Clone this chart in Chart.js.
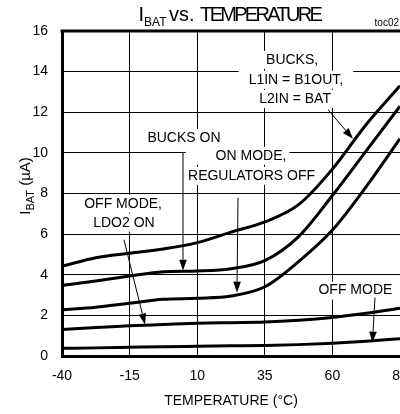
<!DOCTYPE html>
<html>
<head>
<meta charset="utf-8">
<script src="https://cdn.jsdelivr.net/npm/chart.js@4.4.1/dist/chart.umd.min.js"></script>
<style>
  html, body { margin: 0; padding: 0; background: #fff; overflow: hidden; }
</style>
</head>
<body>
<canvas id="chart" width="440" height="414"></canvas>
<script>
// temperature points (°C) and supply current (uA)
const temps = [-40, -27.5, -15, -2.5, 10, 22.5, 35, 47.5, 60, 72.5, 85];
const bucksB1out = [4.42, 4.84, 5.06, 5.27, 5.58, 6.1, 6.6, 7.45, 9.2, 11.4, 13.3];
const bucksOn = [3.48, 3.69, 3.94, 4.15, 4.19, 4.3, 4.7, 5.88, 7.9, 10.1, 12.3];
const onModeRegsOff = [2.27, 2.4, 2.6, 2.79, 2.84, 2.95, 3.41, 4.65, 6.2, 8.34, 10.7];
const offModeLdo2 = [1.31, 1.4, 1.49, 1.55, 1.61, 1.64, 1.67, 1.76, 1.9, 2.1, 2.35];
const offMode = [0.38, 0.4, 0.43, 0.46, 0.48, 0.5, 0.52, 0.56, 0.63, 0.73, 0.85];

const xTicks = [-40, -15, 10, 35, 60, 85];
const yTicks = [0, 2, 4, 6, 8, 10, 12, 14, 16];

// callout text and arrows, in data units (temp, current)
const calloutText = [
  { text: 'BUCKS,', t: 45.1, i: 14.58 },
  { text: 'L1IN = B1OUT,', t: 46.5, i: 13.6, pad: 10 },
  { text: 'L2IN = BAT', t: 46.2, i: 12.66 },
  { text: 'BUCKS ON', t: 5.1, i: 10.74 },
  { text: 'ON MODE,', t: 29.9, i: 9.86, padL: 30 },
  { text: 'REGULATORS OFF', t: 30.1, i: 8.87 },
  { text: 'OFF MODE,', t: -17.4, i: 7.5 },
  { text: 'LDO2 ON', t: -17.1, i: 6.56 },
  { text: 'OFF MODE', t: 68.5, i: 3.22 }
];
const calloutArrows = [
  { from: [58.4, 12.12], to: [67.6, 10.69] },
  { from: [4.75, 10.05], to: [4.75, 4.2] },
  { from: [25.1, 7.79], to: [24.7, 3.12] },
  { from: [-17.1, 5.73], to: [-9.3, 1.55] },
  { from: [75.75, 2.88], to: [74.8, 0.66] }
];

const FONT = '"Liberation Sans", Arial, Helvetica, sans-serif';

function pts(vals) {
  return temps.map((t, k) => ({ x: t, y: vals[k] }));
}

function curve(vals) {
  return {
    data: pts(vals),
    borderColor: '#000',
    borderWidth: 3,
    pointRadius: 0,
    fill: false,
    cubicInterpolationMode: 'monotone'
  };
}

const calloutPlugin = {
  id: 'callouts',
  beforeDatasetsDraw(chart) {
    // white boxes behind the callout text hide the grid
    const { ctx, scales: { x, y } } = chart;
    ctx.save();
    ctx.font = '14px ' + FONT;
    ctx.fillStyle = '#fff';
    calloutText.forEach(c => {
      const w = ctx.measureText(c.text).width;
      const cx = x.getPixelForValue(c.t);
      const cy = y.getPixelForValue(c.i);
      const pl = (c.padL || c.pad || 3);
      const pr = (c.pad || 3);
      ctx.fillRect(cx - w / 2 - pl, cy - 9, w + pl + pr, 18);
    });
    ctx.restore();
  },
  afterDatasetsDraw(chart) {
    const { ctx, scales: { x, y }, chartArea } = chart;
    ctx.save();
    // heavy top frame line
    ctx.strokeStyle = '#000';
    ctx.lineWidth = 3;
    ctx.beginPath();
    ctx.moveTo(chartArea.left - 1.5, chartArea.top);
    ctx.lineTo(chartArea.right + 2, chartArea.top);
    ctx.stroke();

    ctx.font = '14px ' + FONT;
    ctx.fillStyle = '#000';
    ctx.textAlign = 'center';
    ctx.textBaseline = 'middle';
    calloutText.forEach(c => {
      ctx.fillText(c.text, x.getPixelForValue(c.t), y.getPixelForValue(c.i));
    });

    ctx.lineWidth = 1;
    calloutArrows.forEach(a => {
      const x1 = x.getPixelForValue(a.from[0]), y1 = y.getPixelForValue(a.from[1]);
      const x2 = x.getPixelForValue(a.to[0]), y2 = y.getPixelForValue(a.to[1]);
      const ang = Math.atan2(y2 - y1, x2 - x1);
      const len = 11, hw = 3.8;
      ctx.beginPath();
      ctx.moveTo(x1, y1);
      ctx.lineTo(x2 - len * Math.cos(ang), y2 - len * Math.sin(ang));
      ctx.stroke();
      ctx.beginPath();
      ctx.moveTo(x2, y2);
      ctx.lineTo(x2 - len * Math.cos(ang) - hw * Math.sin(ang), y2 - len * Math.sin(ang) + hw * Math.cos(ang));
      ctx.lineTo(x2 - len * Math.cos(ang) + hw * Math.sin(ang), y2 - len * Math.sin(ang) - hw * Math.cos(ang));
      ctx.closePath();
      ctx.fill();
    });
    ctx.restore();
  },
  afterDraw(chart) {
    const { ctx } = chart;
    ctx.save();
    ctx.fillStyle = '#000';
    ctx.textAlign = 'left';
    ctx.textBaseline = 'alphabetic';

    // title: I_BAT vs. TEMPERATURE
    let px = 138.5;
    ctx.font = '20px ' + FONT;
    ctx.fillText('I', px, 21);
    px += ctx.measureText('I').width;
    ctx.font = '12px ' + FONT;
    ctx.fillText('BAT', px, 26);
    px += ctx.measureText('BAT').width + 2.5;
    ctx.font = '20px ' + FONT;
    ctx.fillText('vs. ', px, 21);
    px += ctx.measureText('vs. ').width;
    ctx.letterSpacing = '-2.7px';
    ctx.fillText('TEMPERATURE', px, 21);
    ctx.letterSpacing = '0px';

    // toc02 tag
    ctx.font = '10px ' + FONT;
    ctx.textAlign = 'right';
    ctx.fillText('toc02', 399, 26);

    // y axis title, rotated: I_BAT (µA)
    ctx.textAlign = 'left';
    ctx.font = '15px ' + FONT;
    const wI = ctx.measureText('I').width;
    const wRest = ctx.measureText(' (\u00b5A)').width;
    ctx.font = '11px ' + FONT;
    const wSub = ctx.measureText('BAT').width;
    const total = wI + wSub + wRest;
    ctx.translate(30, 186);
    ctx.rotate(-Math.PI / 2);
    let lx = -total / 2;
    ctx.font = '15px ' + FONT;
    ctx.fillText('I', lx, 0);
    lx += wI;
    ctx.font = '11px ' + FONT;
    ctx.fillText('BAT', lx, 4);
    lx += wSub;
    ctx.font = '15px ' + FONT;
    ctx.fillText(' (\u00b5A)', lx, 0);
    ctx.restore();
  }
};

new Chart(document.getElementById('chart'), {
  type: 'line',
  data: {
    datasets: [
      curve(bucksB1out),
      curve(bucksOn),
      curve(onModeRegsOff),
      curve(offModeLdo2),
      curve(offMode)
    ]
  },
  options: {
    responsive: false,
    animation: false,
    events: [],
    layout: { padding: { left: 0, right: 40, top: 31, bottom: 0 } },
    plugins: { legend: { display: false }, tooltip: { enabled: false } },
    scales: {
      x: {
        type: 'linear',
        min: -40,
        max: 85,
        afterBuildTicks: s => { s.ticks = xTicks.map(v => ({ value: v })); },
        afterFit: s => { s.height = 58; s.paddingLeft = 0; s.paddingRight = 0; },
        grid: { color: '#000', lineWidth: 1, drawTicks: false },
        border: { color: '#000', width: 3 },
        ticks: {
          color: '#000',
          padding: 12,
          maxRotation: 0,
          font: { family: FONT, size: 14 }
        },
        title: {
          display: true,
          text: 'TEMPERATURE (\u00b0C)',
          color: '#000',
          padding: { top: 0, bottom: 4 },
          font: { family: FONT, size: 14 }
        }
      },
      y: {
        min: 0,
        max: 16,
        afterBuildTicks: s => { s.ticks = yTicks.map(v => ({ value: v })); },
        afterFit: s => { s.width = 62; s.paddingTop = 0; s.paddingBottom = 0; },
        grid: { color: '#000', lineWidth: 1, drawTicks: false },
        border: { color: '#000', width: 3 },
        ticks: {
          color: '#000',
          padding: 14,
          font: { family: FONT, size: 14 }
        }
      }
    }
  },
  plugins: [calloutPlugin]
});
</script>
</body>
</html>
